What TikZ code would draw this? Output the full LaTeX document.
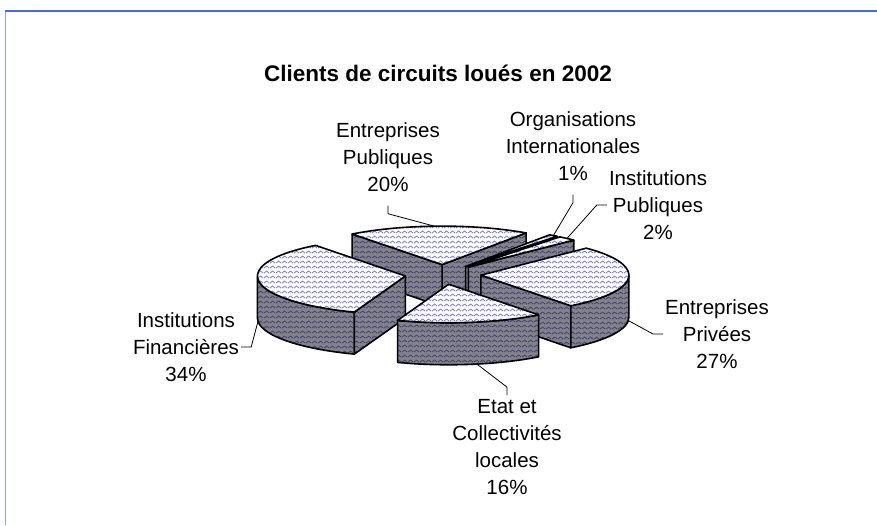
\documentclass[tikz,border=0pt]{standalone}
\usepackage{fontspec}
\setmainfont{Liberation Sans}
\usepackage{tikz}
\usetikzlibrary{calc}
\usetikzlibrary{patterns}

\definecolor{wavetop}{RGB}{120,120,225}
\definecolor{sidegray}{RGB}{130,130,136}
\definecolor{waveside}{RGB}{65,65,125}
\definecolor{frameblue}{RGB}{70,105,230}
\definecolor{frameleft}{RGB}{150,160,230}

\pgfdeclarepatternformonly{waves}{\pgfpointorigin}{\pgfqpoint{6pt}{4.5pt}}{\pgfqpoint{6pt}{4.5pt}}{%
  \pgfsetlinewidth{0.9pt}
  \pgfpathmoveto{\pgfqpoint{0pt}{1pt}}
  \pgfpathcurveto{\pgfqpoint{1.5pt}{1pt}}{\pgfqpoint{1.5pt}{3.2pt}}{\pgfqpoint{3pt}{3.2pt}}
  \pgfpathcurveto{\pgfqpoint{4.5pt}{3.2pt}}{\pgfqpoint{4.5pt}{1pt}}{\pgfqpoint{6pt}{1pt}}
  \pgfusepath{stroke}}

\tikzset{top/.style={draw=black, line width=1.6pt, line join=round, preaction={fill=white}, pattern=waves, pattern color=wavetop}}
\tikzset{side/.style={draw=black, line width=1.6pt, line join=round, preaction={fill=sidegray}, pattern=waves, pattern color=waveside}}
\tikzset{rim/.style={x radius=148, y radius=38.5}}
\tikzset{l/.style={font=\fontsize{20.5}{27}\selectfont, align=center, inner sep=2pt}}
\tikzset{lead/.style={draw=black, line width=0.8pt}}

\begin{document}
\begin{tikzpicture}[x=1pt, y=1pt]
  \useasboundingbox (0,0) rectangle (877,525);
  \draw[frameleft, line width=1pt] (5,0) -- (5,514);
  \draw[frameblue, line width=2pt] (4.5,514) -- (877,514);

  \node[font=\fontsize{22.5}{26}\selectfont\bfseries] (title) at (438,452) {Clients de circuits loués en 2002};

  \coordinate (c) at (443,250.5);
  % Entreprises Publiques
  \coordinate (ep) at ($(c)+(91.4:38 and 9.88)$);
  \draw[side] (ep) -- ++(55.4:148 and 38.5) -- ++(0,-42) -- ($(ep)+(0,-42)$) -- cycle;
  \draw[side] (ep) -- ++(127.4:148 and 38.5) -- ++(0,-42) -- ($(ep)+(0,-42)$) -- cycle;
  \draw[top] (ep) -- ++(55.4:148 and 38.5) arc[rim, start angle=55.4, end angle=127.4] -- cycle;
  % Organisations Internationales
  \coordinate (oi) at ($(c)+(53.6:38 and 9.88)$);
  \draw[side] (oi) -- ++(51.8:148 and 38.5) -- ++(0,-42) -- ($(oi)+(0,-42)$) -- cycle;
  \draw[top] (oi) -- ++(51.8:148 and 38.5) arc[rim, start angle=51.8, end angle=55.4] -- cycle;
  % Institutions Publiques
  \coordinate (ip) at ($(c)+(48.2:38 and 9.88)$);
  \draw[side] (ip) -- ++(44.6:148 and 38.5) -- ++(0,-42) -- ($(ip)+(0,-42)$) -- cycle;
  \draw[top] (ip) -- ++(44.6:148 and 38.5) arc[rim, start angle=44.6, end angle=51.8] -- cycle;
  % Institutions Financieres
  \coordinate (if) at ($(c)+(188.6:38 and 9.88)$);
  \draw[side] ($(if)+(180:148 and 38.5)$) arc[rim, start angle=180, end angle=249.8] -- ++(0,-42) arc[rim, start angle=249.8, end angle=180] -- cycle;
  \draw[side] (if) -- ++(249.8:148 and 38.5) -- ++(0,-42) -- ($(if)+(0,-42)$) -- cycle;
  \draw[top] (if) -- ++(127.4:148 and 38.5) arc[rim, start angle=127.4, end angle=249.8] -- cycle;
  % Entreprises Privees
  \coordinate (epr) at ($(c)+(-4:38 and 9.88)$);
  \draw[side] (epr) -- ++(-52.6:148 and 38.5) -- ++(0,-42) -- ($(epr)+(0,-42)$) -- cycle;
  \draw[side] ($(epr)+(-52.6:148 and 38.5)$) arc[rim, start angle=-52.6, end angle=0] -- ++(0,-42) arc[rim, start angle=0, end angle=-52.6] -- cycle;
  \draw[top] (epr) -- ++(-52.6:148 and 38.5) arc[rim, start angle=-52.6, end angle=44.6] -- cycle;
  % Etat et Collectivites locales
  \coordinate (ec) at ($(c)+(278.6:38 and 9.88)$);
  \draw[side] ($(ec)+(249.8:148 and 38.5)$) arc[rim, start angle=249.8, end angle=307.4] -- ++(0,-42) arc[rim, start angle=307.4, end angle=249.8] -- cycle;
  \draw[top] (ec) -- ++(249.8:148 and 38.5) arc[rim, start angle=249.8, end angle=307.4] -- cycle;

  % labels
  \node[l] (eplab) at (388,368) {Entreprises\\Publiques\\20\%};
  \node[l] (oilab) at (573,379) {Organisations\\Internationales\\1\%};
  \node[l] (iplab) at (658,320) {Institutions\\Publiques\\2\%};
  \node[l] (eprlab) at (717,191) {Entreprises\\Privées\\27\%};
  \node[l] (iflab) at (186,178) {Institutions\\Financières\\34\%};
  \node[l] (eclab) at (507,78) {Etat et\\Collectivités\\locales\\16\%};

  \coordinate (epa) at ($(ep)+(93:148 and 38.5)$);
  \coordinate (oia) at ($(oi)+(53.6:148 and 38.5)$);
  \coordinate (ipa) at ($(ip)+(48.2:148 and 38.5)$);
  \coordinate (epra) at ($(epr)+(355:148 and 38.5)+(0,-42)$);
  \coordinate (ifa) at ($(if)+(185:148 and 38.5)+(0,-42)$);
  \coordinate (eca) at ($(ec)+(281:148 and 38.5)+(0,-42)$);
  \draw[lead] (epa) -- ($(eplab.south)+(0,-20)$) -- ($(eplab.south)+(0,-12)$);
  \draw[lead] (oia) -- ($(oilab.south)+(0,-20)$) -- ($(oilab.south)+(0,-12)$);
  \draw[lead] (ipa) -- ($(iplab.west)+(-10,0)$) -- (iplab.west);
  \draw[lead] (epra) -- ($(eprlab.west)+(-10,0)$) -- (eprlab.west);
  \draw[lead] (ifa) -- ($(iflab.east)+(10,0)$) -- (iflab.east);
  \draw[lead] (eca) -- ($(eclab.north)+(0,10)$) -- ($(eclab.north)+(0,2)$);
\end{tikzpicture}
\end{document}
